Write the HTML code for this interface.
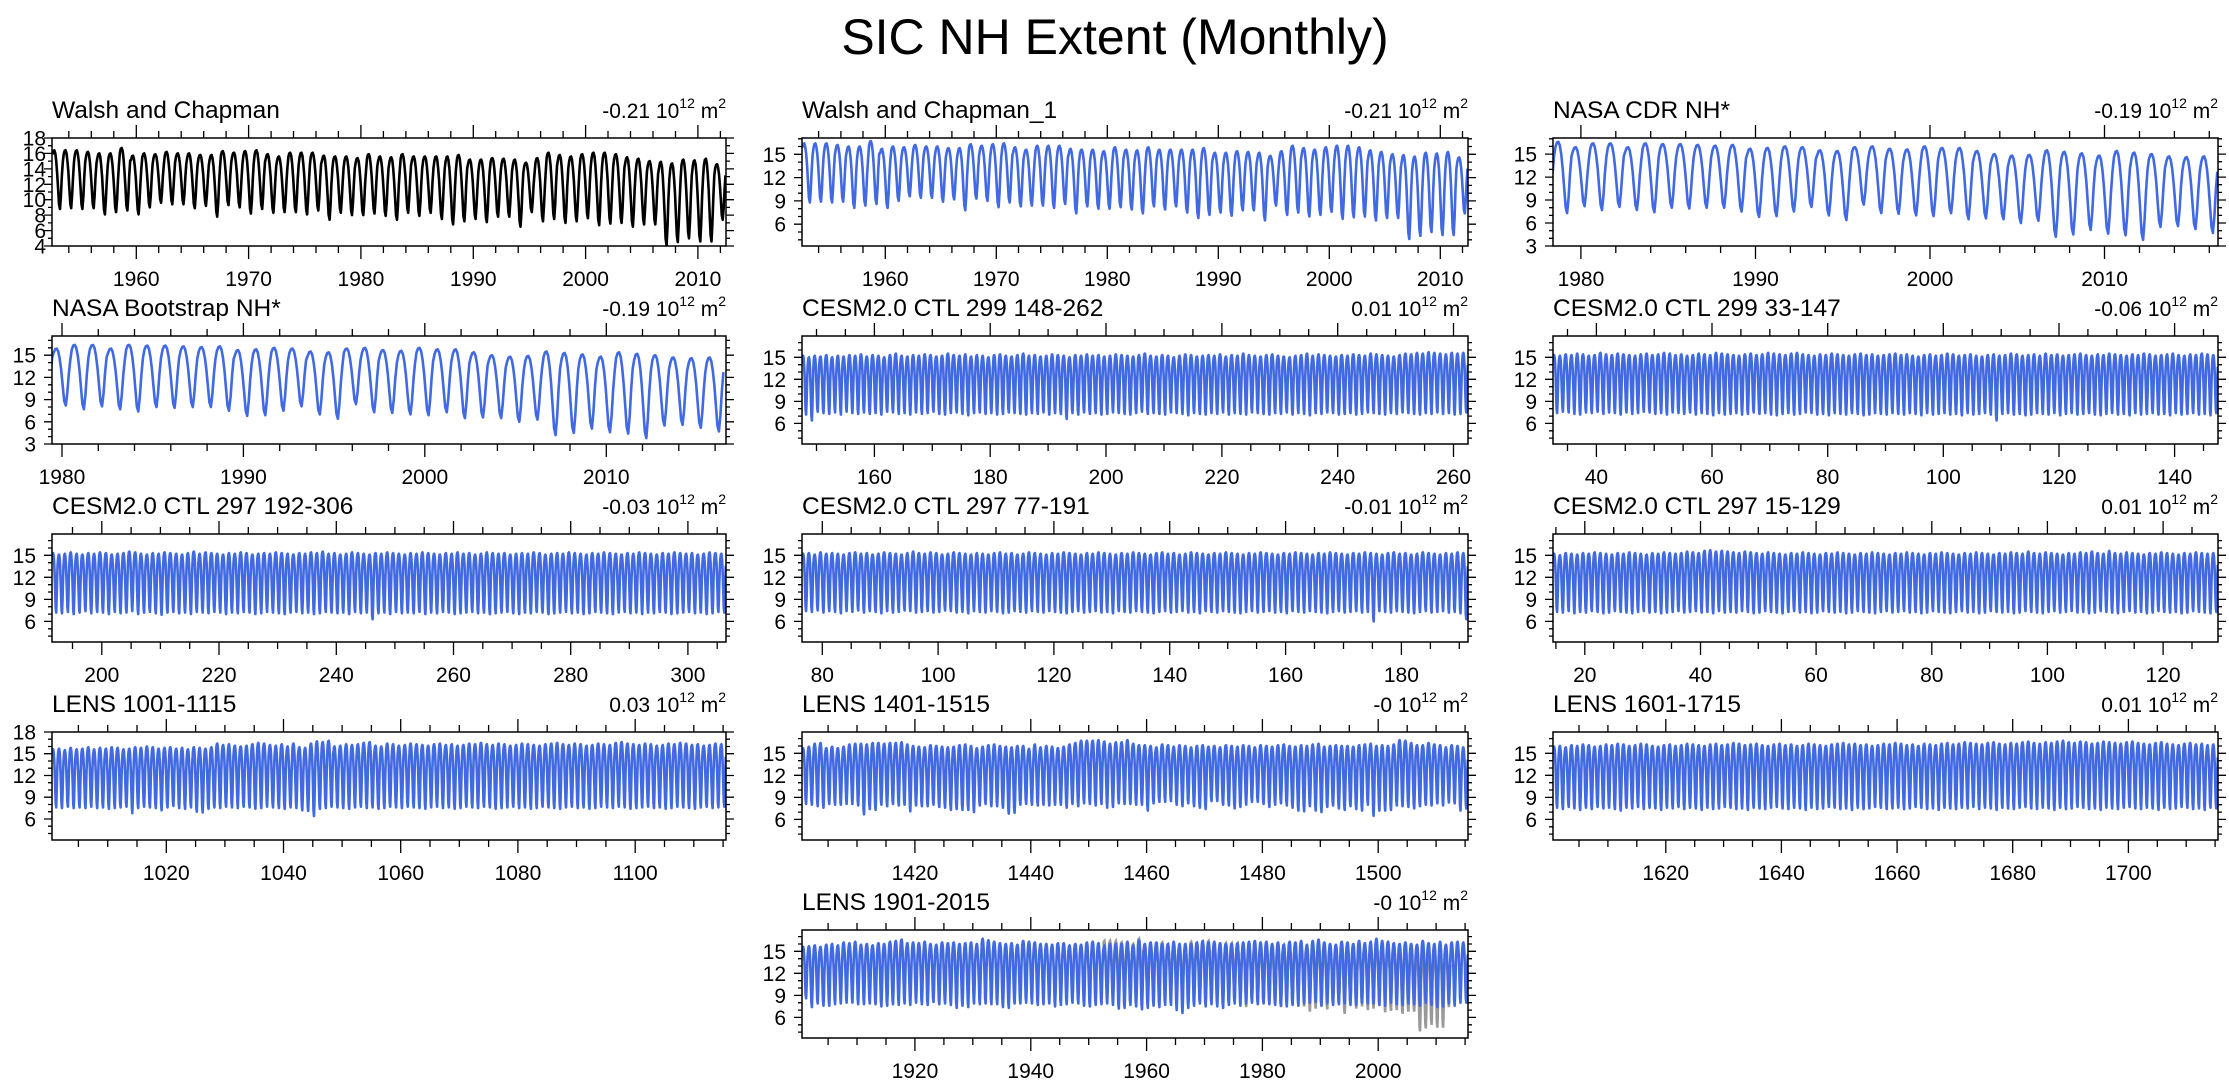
<!DOCTYPE html>
<html><head><meta charset="utf-8"><title>SIC NH Extent (Monthly)</title>
<style>
html,body{margin:0;padding:0;background:#fff;}
svg{display:block;font-family:"Liberation Sans",Arial,sans-serif;}
</style></head>
<body>
<svg id="fig" width="2229" height="1087" viewBox="0 0 2229 1087">
<text x="1115" y="54" text-anchor="middle" font-size="50">SIC NH Extent (Monthly)</text>
</svg>
<script>
// ---- data: annual maximum / minimum (x10, 10^12 m^2) ----
const walshYears=[1953,2012];
const walshMax=[164,164,164,162,160,160,167,157,160,159,162,160,160,158,158,163,161,163,164,159,156,161,161,161,157,156,156,154,159,156,155,159,156,156,156,156,158,152,152,154,153,152,148,154,161,158,156,159,161,161,159,155,153,150,149,147,152,151,153,146];
const walshMin=[88,89,88,89,81,84,86,81,90,96,94,94,89,92,78,93,90,82,88,83,84,84,81,86,74,83,80,80,82,79,74,83,79,83,75,68,72,75,71,78,78,65,84,72,75,70,72,76,67,69,70,65,68,68,41,45,50,46,46,74];
const satYears=[1978,2016];
const satMax=[165,166,159,164,164,159,164,163,163,162,161,162,157,158,160,159,155,154,159,160,157,156,160,158,158,154,150,148,149,155,153,151,148,154,152,150,147,146,147];
const satMin=[75,73,82,77,81,77,74,80,79,80,80,75,68,69,75,81,70,64,84,73,72,70,69,73,65,66,65,60,63,42,45,51,46,44,38,55,56,52,47];
const c299aMax=[152,150,152,151,153,150,152,151,153,152,154,151,153,152,150,153,155,152,151,153,152,154,153,151,152,155,153,152,154,151,153,152,150,153,154,152,151,153,155,152,153,151,152,154,153,152,150,153,152,154,152,153,151,152,154,153,152,151,153,155,152,151,153,152,150,152,154,153,151,152,153,152,154,151,153,152,155,153,152,151,153,154,152,151,150,152,153,155,152,154,153,152,151,153,152,154,153,152,155,154,153,152,151,153,155,154,156,155,157,156,155,154,156,155,156];
const c299aMin=[72,64,76,74,73,75,72,76,74,73,75,73,74,72,76,75,73,74,72,75,73,74,76,73,72,74,75,73,71,74,75,73,74,72,73,75,74,73,72,74,73,75,72,74,73,66,74,72,75,73,74,72,73,75,74,73,72,74,76,73,74,73,72,75,74,73,71,74,73,72,74,73,75,72,74,73,72,75,74,73,72,74,73,75,72,74,73,71,74,73,75,74,72,73,74,72,73,75,74,73,72,74,73,75,74,73,72,74,73,75,73,74,72,73,75];
const c299bMax=[153,152,154,153,155,154,152,153,156,154,153,155,154,153,152,154,155,153,154,156,155,153,154,152,153,155,154,153,156,155,154,153,152,154,155,153,154,156,155,154,153,155,156,154,153,152,154,153,155,154,153,152,154,155,153,154,152,153,154,155,153,154,152,151,153,154,152,153,155,154,152,153,154,152,151,153,154,152,153,155,154,152,153,154,152,155,153,154,152,153,154,155,153,152,154,153,155,154,153,152,154,153,155,154,152,153,154,155,153,152,154,153,155,154,153];
const c299bMin=[74,76,75,73,72,75,74,76,73,75,74,72,75,73,74,76,75,73,74,72,75,74,73,75,72,74,73,71,74,72,73,74,72,73,75,73,74,72,71,73,74,72,73,75,74,72,73,71,74,73,72,74,73,71,72,74,73,72,74,73,72,74,73,71,74,72,73,74,72,73,71,74,72,73,74,72,64,73,74,72,73,71,72,74,73,72,74,71,73,74,72,73,74,72,71,73,74,72,73,71,74,72,73,74,72,73,71,74,72,73,74,72,73,71,74];
const c297aMax=[153,151,152,154,152,151,153,152,154,153,151,152,153,155,154,152,151,153,152,154,153,152,151,153,155,152,154,153,152,151,153,152,154,153,151,152,153,152,154,153,152,151,153,152,154,153,155,152,153,151,152,154,153,152,151,153,152,154,153,152,151,153,152,154,153,152,151,153,152,154,152,153,151,152,154,153,152,153,151,152,153,152,154,153,151,152,153,152,154,153,152,151,153,152,154,153,152,151,153,152,154,153,152,151,153,152,154,153,152,153,151,152,154,153,152];
const c297aMin=[72,71,73,70,72,74,71,73,72,70,73,71,72,74,70,72,73,71,69,72,73,71,72,70,73,72,71,73,72,70,72,71,73,72,70,71,73,72,71,70,72,73,71,72,70,71,73,72,71,72,70,73,71,72,63,71,72,70,73,71,72,71,73,70,72,71,73,72,70,71,72,73,71,72,70,71,72,73,71,70,72,71,73,72,70,71,72,73,71,72,70,71,73,72,71,70,72,73,71,72,70,72,71,73,72,70,71,72,73,71,72,70,71,73,72];
const c297bMax=[152,153,151,154,152,153,152,151,153,154,152,153,151,152,154,153,152,151,153,155,153,152,154,153,151,152,154,153,152,151,153,152,151,153,154,152,153,151,152,154,153,152,151,153,152,154,153,152,151,153,152,154,153,152,151,153,152,154,153,152,151,153,154,152,153,151,152,154,153,152,151,153,152,154,153,152,151,153,152,154,153,152,151,153,152,154,153,152,151,153,152,154,153,152,151,153,152,154,153,152,151,153,154,152,153,151,152,154,153,152,151,153,152,154,153];
const c297bMin=[74,73,75,72,74,73,71,74,73,75,72,74,73,71,74,72,73,75,74,72,73,74,72,73,75,74,72,73,71,74,73,72,74,73,71,72,74,73,72,74,73,72,74,73,72,71,73,74,72,73,74,72,73,71,74,73,72,74,73,72,71,73,74,72,73,74,72,73,71,74,73,72,74,73,72,71,73,74,72,73,74,72,73,71,74,73,72,74,73,72,71,73,74,72,73,74,72,73,60,74,73,72,74,73,72,71,73,74,72,73,74,72,73,71,63];
const c297cMax=[152,150,153,152,151,153,152,154,153,152,151,153,152,154,153,152,151,153,152,154,153,152,153,155,154,153,156,157,155,156,155,154,153,155,154,153,152,154,153,152,151,153,152,154,153,152,151,153,152,154,153,152,151,153,152,154,153,152,151,153,152,154,153,152,151,153,152,154,153,152,151,153,152,154,153,152,151,153,152,154,153,152,155,153,152,154,153,152,151,153,152,154,153,155,153,152,156,153,152,154,153,152,151,153,152,154,153,152,151,153,152,154,153,152,153];
const c297cMin=[73,72,74,71,73,72,74,73,71,72,74,73,72,71,73,74,72,73,71,72,73,74,72,73,74,72,73,71,74,72,73,72,74,73,71,72,74,73,72,71,73,74,72,73,71,72,74,73,72,73,71,72,74,73,72,71,73,74,72,73,74,72,73,71,72,74,73,72,71,73,74,72,73,71,72,74,73,72,73,71,72,74,73,72,71,73,74,72,73,74,72,73,71,72,74,73,72,71,73,74,72,73,71,72,74,73,72,73,71,72,74,73,72,71,73];
const l1001Max=[156,157,155,158,156,157,159,156,158,157,159,158,156,157,159,158,160,159,157,158,159,157,158,156,159,158,157,159,164,162,163,161,160,161,163,165,164,162,161,163,160,164,159,158,164,167,166,168,160,161,163,162,163,165,166,161,160,164,163,161,162,164,163,162,161,163,164,162,163,161,162,164,163,165,163,162,164,163,161,162,164,163,162,161,163,164,165,163,162,164,163,161,162,164,163,162,165,166,164,163,162,164,163,161,162,164,163,165,164,162,163,161,162,164,163];
const l1001Min=[76,75,77,75,76,75,77,75,76,74,75,76,77,68,75,77,76,75,72,76,78,75,74,76,70,69,74,76,75,77,76,75,77,76,74,75,77,76,75,74,76,75,72,71,64,74,75,77,76,75,74,76,77,75,76,74,75,77,76,75,77,76,75,74,76,77,75,76,74,75,77,76,75,77,76,74,75,76,77,75,76,74,75,77,76,75,74,76,77,75,76,74,75,77,76,75,77,76,74,75,76,77,75,76,74,75,77,76,75,74,76,77,75,76,77];
const l1401Max=[157,159,163,164,157,159,157,159,162,163,163,162,164,164,163,164,164,165,162,160,159,158,161,160,159,158,159,161,162,160,157,159,161,162,160,159,158,160,160,156,162,158,160,159,157,159,162,164,167,167,167,168,166,163,165,165,168,163,161,161,160,158,162,161,159,161,160,158,160,161,159,160,158,161,160,159,161,160,158,161,160,159,161,162,160,159,161,160,162,163,159,160,161,160,160,159,161,162,163,160,161,160,162,168,167,164,161,161,164,162,161,158,161,160,158];
const l1401Min=[81,80,78,76,81,80,80,81,81,79,67,74,73,80,78,81,79,80,71,79,78,78,80,77,76,73,74,73,73,70,79,81,78,78,76,68,69,80,81,80,79,80,79,80,80,76,81,78,82,81,79,81,76,77,82,81,81,80,80,72,82,84,84,85,80,78,82,78,76,74,85,85,80,79,75,77,80,84,84,81,77,80,82,79,76,72,71,78,72,70,77,79,75,73,78,74,72,80,65,72,72,73,79,78,77,75,78,80,79,82,79,83,82,72,75];
const l1601Max=[159,160,158,161,160,162,161,159,160,162,161,163,162,160,161,163,162,160,159,161,162,160,161,163,162,161,160,162,163,161,162,164,163,161,162,163,161,160,162,163,161,162,160,161,163,162,161,160,162,163,164,162,163,161,162,160,161,163,162,164,163,161,162,160,163,162,161,163,164,162,163,165,164,163,162,164,165,163,162,164,163,165,166,164,163,165,164,166,167,165,164,166,165,163,164,166,165,164,163,165,166,164,163,162,164,165,163,162,161,163,164,162,163,161,162];
const l1601Min=[76,74,77,75,73,76,74,77,75,76,74,72,76,75,77,74,76,75,73,76,75,77,74,76,75,73,76,74,75,77,76,74,75,73,76,75,74,76,77,75,74,76,75,73,76,74,75,77,76,74,75,73,76,74,75,77,76,74,75,76,74,75,77,76,74,75,73,76,75,74,76,75,77,74,76,75,73,76,75,74,76,77,75,74,76,75,73,76,74,75,77,76,74,75,73,76,75,74,76,77,75,74,76,75,73,76,74,75,77,76,74,75,73,76,75];
const l1901Max=[156,157,158,156,159,160,158,162,161,163,159,160,158,161,160,163,164,166,161,162,161,163,160,159,162,161,162,160,161,162,160,167,165,163,161,160,161,159,164,163,162,160,160,159,161,161,158,160,159,162,163,161,158,160,160,160,163,158,165,160,162,162,160,160,163,160,160,160,162,164,162,163,161,160,160,161,162,163,164,162,163,160,162,159,163,162,164,159,164,166,162,160,159,163,162,160,164,161,163,167,164,163,161,160,162,160,159,164,161,160,163,159,162,163,162];
const l1901Min=[86,74,79,76,76,78,79,80,80,78,78,79,78,75,76,78,77,79,77,80,78,77,81,78,79,77,73,76,74,79,78,79,78,78,74,73,79,79,80,79,77,78,79,75,77,78,80,79,76,75,77,78,79,77,72,73,77,75,71,73,76,74,77,77,70,66,73,76,79,75,78,75,73,77,79,76,79,80,78,79,78,77,76,75,77,76,79,80,81,76,79,77,78,79,77,77,80,79,79,77,76,80,78,77,79,78,76,80,77,74,75,79,76,80,80];
// normalized seasonal cycle shape (Jan..Dec), 1 = annual max, 0 = annual min
const seasonShape=[0.93,0.99,1.0,0.95,0.82,0.62,0.35,0.08,0.0,0.22,0.55,0.80];

const svg=document.getElementById('fig');
const NS='http://www.w3.org/2000/svg';
function el(tag,attrs,parent){const e=document.createElementNS(NS,tag);for(const k in attrs)e.setAttribute(k,attrs[k]);(parent||svg).appendChild(e);return e;}

const colX=[[52,726],[802,1468],[1553,2218]];
const rowY=[138,336,534,732,930];
const BH=108;

const panels=[
 {name:'walsh-and-chapman',title:'Walsh and Chapman',trend:'-0.21',c:0,r:0,x0:1952.5,x1:2012.5,y0:4,y1:18,yl:[4,6,8,10,12,14,16,18],ym:1,xl:[1960,1970,1980,1990,2000,2010],xm:2,color:'#000',series:[[walshYears[0],walshMax,walshMin,0]],ylx:6},
 {name:'walsh-and-chapman-1',title:'Walsh and Chapman_1',trend:'-0.21',c:1,r:0,x0:1952.5,x1:2012.5,y0:3.2,y1:17.1,yl:[6,9,12,15],ym:1,xl:[1960,1970,1980,1990,2000,2010],xm:2,color:'#4169e1',series:[[walshYears[0],walshMax,walshMin,0]]},
 {name:'nasa-cdr-nh',title:'NASA CDR NH*',trend:'-0.19',c:2,r:0,x0:1978.4,x1:2016.5,y0:3,y1:17.1,yl:[3,6,9,12,15],ym:1,xl:[1980,1990,2000,2010],xm:2,color:'#4169e1',series:[[satYears[0],satMax,satMin,10]]},
 {name:'nasa-bootstrap-nh',title:'NASA Bootstrap NH*',trend:'-0.19',c:0,r:1,x0:1979.45,x1:2016.6,y0:3,y1:17.6,yl:[3,6,9,12,15],ym:1,xl:[1980,1990,2000,2010],xm:2,color:'#4169e1',series:[[satYears[0],satMax,satMin,12]]},
 {name:'cesm-ctl-299-148-262',title:'CESM2.0 CTL 299 148-262',trend:'0.01',c:1,r:1,x0:147.5,x1:262.5,y0:3.2,y1:17.9,yl:[6,9,12,15],ym:1,xl:[160,180,200,220,240,260],xm:5,color:'#4169e1',series:[[148,c299aMax,c299aMin,0]]},
 {name:'cesm-ctl-299-33-147',title:'CESM2.0 CTL 299 33-147',trend:'-0.06',c:2,r:1,x0:32.5,x1:147.5,y0:3.2,y1:17.9,yl:[6,9,12,15],ym:1,xl:[40,60,80,100,120,140],xm:5,color:'#4169e1',series:[[33,c299bMax,c299bMin,0]]},
 {name:'cesm-ctl-297-192-306',title:'CESM2.0 CTL 297 192-306',trend:'-0.03',c:0,r:2,x0:191.5,x1:306.5,y0:3.2,y1:17.9,yl:[6,9,12,15],ym:1,xl:[200,220,240,260,280,300],xm:5,color:'#4169e1',series:[[192,c297aMax,c297aMin,0]]},
 {name:'cesm-ctl-297-77-191',title:'CESM2.0 CTL 297 77-191',trend:'-0.01',c:1,r:2,x0:76.5,x1:191.5,y0:3.2,y1:17.9,yl:[6,9,12,15],ym:1,xl:[80,100,120,140,160,180],xm:5,color:'#4169e1',series:[[77,c297bMax,c297bMin,0]]},
 {name:'cesm-ctl-297-15-129',title:'CESM2.0 CTL 297 15-129',trend:'0.01',c:2,r:2,x0:14.5,x1:129.5,y0:3.2,y1:17.9,yl:[6,9,12,15],ym:1,xl:[20,40,60,80,100,120],xm:5,color:'#4169e1',series:[[15,c297cMax,c297cMin,0]]},
 {name:'lens-1001-1115',title:'LENS 1001-1115',trend:'0.03',c:0,r:3,x0:1000.5,x1:1115.5,y0:3.1,y1:18,yl:[6,9,12,15,18],ym:1,xl:[1020,1040,1060,1080,1100],xm:5,color:'#4169e1',series:[[1001,l1001Max,l1001Min,0]]},
 {name:'lens-1401-1515',title:'LENS 1401-1515',trend:'-0',c:1,r:3,x0:1400.5,x1:1515.5,y0:3.2,y1:17.9,yl:[6,9,12,15],ym:1,xl:[1420,1440,1460,1480,1500],xm:5,color:'#4169e1',series:[[1401,l1401Max,l1401Min,0]]},
 {name:'lens-1601-1715',title:'LENS 1601-1715',trend:'0.01',c:2,r:3,x0:1600.5,x1:1715.5,y0:3.2,y1:17.9,yl:[6,9,12,15],ym:1,xl:[1620,1640,1660,1680,1700],xm:5,color:'#4169e1',series:[[1601,l1601Max,l1601Min,0]]},
 {name:'lens-1901-2015',title:'LENS 1901-2015',trend:'-0',c:1,r:4,x0:1900.5,x1:2015.5,y0:3.2,y1:17.9,yl:[6,9,12,15],ym:1,xl:[1920,1940,1960,1980,2000],xm:5,color:'#4169e1',gray:[walshYears[0],walshMax,walshMin,0],series:[[1901,l1901Max,l1901Min,0]]}
];

function seriesPoints(s,sx,sy){
  const [y0,mx,mn,startM]=s; const pts=[];
  for(let i=0;i<mx.length;i++){
    for(let m=0;m<12;m++){
      if(i===0&&m<startM)continue;
      const v=(mn[i]+(mx[i]-mn[i])*seasonShape[m])/10;
      const t=y0+i-0.5+(m+0.5)/12;
      pts.push(sx(t).toFixed(1)+','+sy(v).toFixed(1));
    }
  }
  return pts.join(' ');
}

panels.forEach(p=>{
  const L=colX[p.c][0],R=colX[p.c][1],T=rowY[p.r],B=T+BH;
  const g=el('g',{});
  
  
  const sx=t=>L+(t-p.x0)/(p.x1-p.x0)*(R-L);
  const sy=v=>B-(v-p.y0)/(p.y1-p.y0)*BH;
  const tt=el('text',{x:L,y:T-20,'font-size':24.5},g);tt.textContent=p.title;
  
  
  const tr=el('text',{x:R,y:T-20,'font-size':21,'text-anchor':'end'},g);
  tr.innerHTML=p.trend+' 10<tspan font-size="14" dy="-10">12</tspan><tspan dy="10"> m</tspan><tspan font-size="14" dy="-10">2</tspan>';
  
  
  const cid='clip'+p.name;
  const cp=el('clipPath',{id:cid},g);el('rect',{x:L,y:T,width:R-L,height:BH},cp);
  if(p.gray){
    const gl=el('polyline',{points:seriesPoints(p.gray,sx,sy),fill:'none',stroke:'#999','stroke-width':2.6,'clip-path':'url(#'+cid+')'},g);
    
    
  }
  p.series.forEach(s=>{
    const pl=el('polyline',{points:seriesPoints(s,sx,sy),fill:'none',stroke:p.color,'stroke-width':2.6,'stroke-linejoin':'round','clip-path':'url(#'+cid+')'},g);
    
    
  });
  const xs=Math.ceil(p.x0/p.xm)*p.xm;
  let d='';
  for(let t=xs;t<=p.x1;t+=p.xm){
    const major=p.xl.indexOf(t)>=0||(p.xm===2&&t%10===0)||(p.xm===5&&t%20===0);
    const len=major?13:7;const x=sx(t).toFixed(1);
    d+=`M${x},${T}v${-len}M${x},${B}v${len}`;
  }
  for(let v=Math.ceil(p.y0/p.ym)*p.ym;v<=p.y1;v+=p.ym){
    const major=p.yl.indexOf(v)>=0||(p.yl[1]-p.yl[0]===3&&v%3===0);
    const len=major?8:4;const y=sy(v).toFixed(1);
    d+=`M${L},${y}h${-len}M${R},${y}h${len}`;
  }
  el('path',{d:d,stroke:'#000','stroke-width':1.3,fill:'none'},g);
  el('rect',{x:L,y:T,width:R-L,height:BH,fill:'none',stroke:'#000','stroke-width':1.5},g);
  p.xl.forEach(t=>{
    const tx=el('text',{x:sx(t),y:B+40,'font-size':21,'text-anchor':'middle'},g);tx.textContent=t;
    
    
  });
  p.yl.forEach(v=>{
    const tx=el('text',{x:L-(p.ylx||16),y:sy(v)+7.5,'font-size':21,'text-anchor':'end'},g);tx.textContent=v;
    
    
  });
});
</script>
</body></html>
